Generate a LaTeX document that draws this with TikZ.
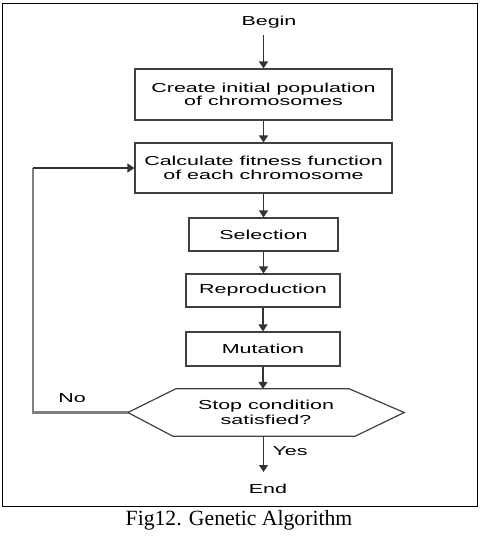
\documentclass[tikz,border=0pt]{standalone}
\usepackage{fontspec}
\setmainfont{Liberation Serif}
\newfontfamily\fcfont[FakeStretch=1.65]{Liberation Sans}
\usetikzlibrary{arrows.meta,calc}
\begin{document}
\begin{tikzpicture}[x=1pt,y=-1pt,
  box/.style={draw=black!75,line width=1.2pt,align=center,inner sep=0pt,font=\fcfont\fontsize{13}{13.5}\selectfont},
  lbl/.style={font=\fcfont\fontsize{13}{15}\selectfont,inner sep=0pt},
  arr/.style={draw=black!80,line width=1.2pt,-{Triangle[width=9pt,length=7pt]}},
  ln/.style={draw=black!50,line width=2.6pt}]
\useasboundingbox (0,0) rectangle (484,536);
\draw[line width=1pt] (2,3) rectangle (477,506);
\node[lbl] (begin) at (269,22) {Begin};
\node[box,minimum width=257pt,minimum height=51pt] (create) at (263.5,94.5) {Create initial population\\of chromosomes};
\node[box,minimum width=257pt,minimum height=50pt] (calc) at (263.5,168) {Calculate fitness function\\of each chromosome};
\node[box,minimum width=149pt,minimum height=33pt] (sel) at (263.5,234.5) {Selection};
\node[box,minimum width=154pt,minimum height=33pt] (rep) at (263,290.5) {Reproduction};
\node[box,minimum width=154pt,minimum height=34pt] (mut) at (263,349) {Mutation};
\node[align=center,inner sep=0pt,minimum width=276pt,minimum height=47pt,font=\fcfont\fontsize{13}{15}\selectfont] (dec) at (266,412.5) {Stop condition\\satisfied?};
\draw[draw=black!75,line width=1.2pt] (dec.west) -- ($(dec.north west)+(48,0)$) -- ($(dec.north east)+(-55,0)$) -- (dec.east) -- ($(dec.south east)+(-49,0)$) -- ($(dec.south west)+(45,0)$) -- cycle;
\node[lbl] (end) at (268,489) {End};
\node[lbl] (no) at (72,398) {No};
\node[lbl] (yes) at (290,451) {Yes};
\node[font=\fontsize{21.7}{24}\selectfont,inner sep=0pt] (cap) at (239,520) {Fig12. Genetic Algorithm};
\coordinate (bstart) at ($(begin.south -| create.north)+(0,7)$);
\coordinate (lb) at (33,412.5);
\coordinate (lt) at (33,168);
\coordinate (yend) at (263.5,472);
\draw[arr] (bstart) -- (create.north);
\draw[arr] (create.south) -- (calc.north);
\draw[arr] (calc.south) -- (sel.north);
\draw[arr] (sel.south) -- (rep.north -| sel.south);
\draw[arr] (rep.south) -- (mut.north);
\draw[arr] (mut.south) -- (dec.north -| mut.south);
\draw[arr] (dec.south -| yend) -- (yend);
\draw[ln] (dec.west) -- (lb) -- (lt);
\draw[arr] (lt) -- (calc.west);
\end{tikzpicture}
\end{document}
